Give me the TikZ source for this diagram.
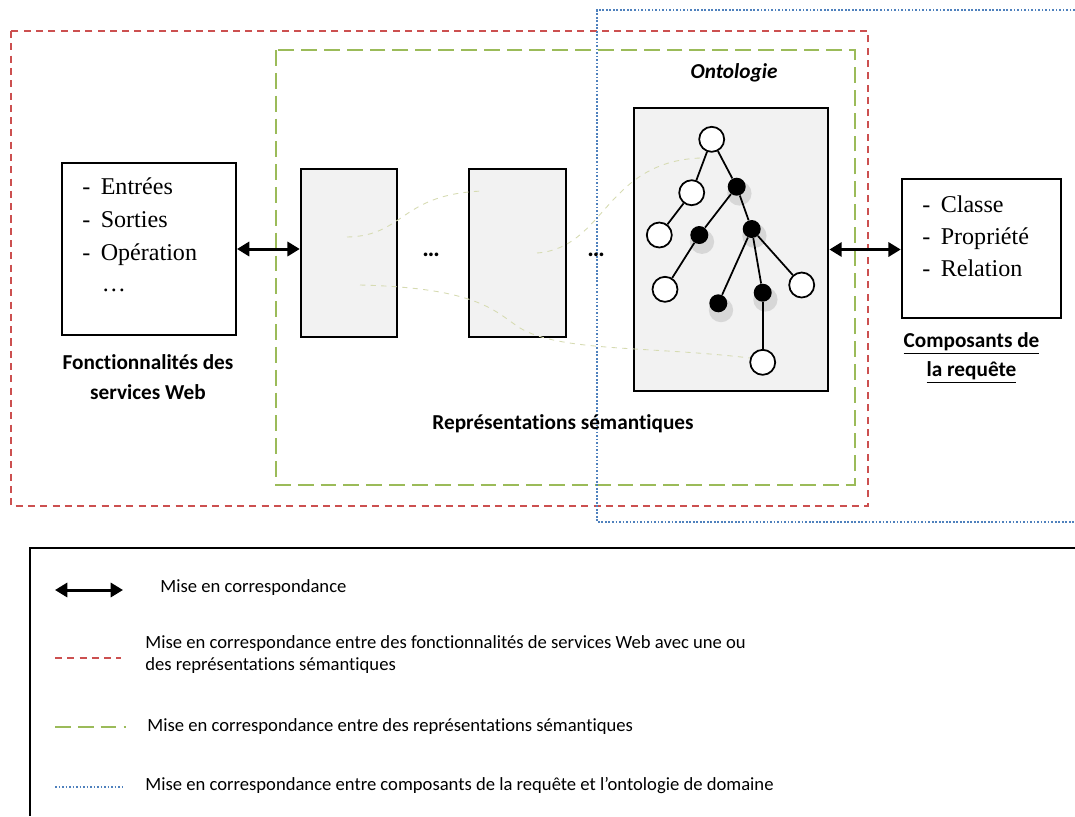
\documentclass[tikz,border=0pt]{standalone}
\usepackage{fontspec}
\setmainfont{Carlito}[Ligatures=NoCommon]
\newfontfamily\timesfont{Liberation Serif}
\usetikzlibrary{arrows.meta,shadows}

\definecolor{zonered}{RGB}{204,80,80}
\definecolor{zonegreen}{RGB}{155,187,89}
\definecolor{zoneblue}{RGB}{79,129,189}
\definecolor{boxgray}{RGB}{242,242,242}
\definecolor{tracecol}{RGB}{214,219,178}

\tikzset{
  redzone/.style={zonered, line width=1.2pt, dash pattern=on 4pt off 3pt},
  greenzone/.style={zonegreen, line width=1.2pt, dash pattern=on 9pt off 4pt},
  bluezone/.style={zoneblue, line width=1.4pt, dash pattern=on 1pt off 1pt},
  listbox/.style={draw, line width=1.1pt, fill=white, inner sep=0pt},
  repbox/.style={draw, line width=1.1pt, fill=boxgray, inner sep=0pt},
  mapping/.style={line width=1.7pt, {Triangle[length=7pt,width=8pt]}-{Triangle[length=7pt,width=8pt]}},
  listtext/.style={anchor=base west, inner sep=0pt, font=\timesfont\fontsize{13.7}{15}\selectfont},
  boldlabel/.style={align=center, inner sep=0pt, font=\bfseries\fontsize{12.1}{17}\selectfont},
  classnode/.style={circle, draw, line width=1pt, fill=white, minimum size=0.5cm, inner sep=0pt},
  instnode/.style={circle, fill=black, minimum size=0.36cm, inner sep=0pt,
    drop shadow={shadow xshift=0.04cm, shadow yshift=-0.1cm, shadow scale=1.35, fill=gray!40, opacity=0.7}},
  treeedge/.style={line width=1pt},
  trace/.style={tracecol, line width=0.5pt, dashed},
  legendtext/.style={anchor=west, align=left, inner sep=0pt, font=\fontsize{10.6}{12.5}\selectfont},
  repdots/.style={anchor=base, inner sep=0pt, font=\bfseries\fontsize{14}{16}\selectfont},
}

\begin{document}
\begin{tikzpicture}[x=0.02cm,y=-0.02cm]
  \useasboundingbox (0,0) rectangle (1075,816);

  % zones de mise en correspondance
  \draw[redzone] (11,31) rectangle (868,506);
  \draw[greenzone] (276,50) rectangle (855,485);
  \draw[bluezone] (1075,10) -- (597,10) -- (597,522) -- (1075,522);

  % fonctionnalites des services Web
  \node[listbox, minimum width=3.48cm, minimum height=3.44cm] (fws) at (149,249) {};
  \foreach \txt [count=\i] in {Entrées, Sorties, Opération}
    \node[listtext] (fws\i) at (82,161+33*\i) {\makebox[10.5pt][l]{-}\txt};
  \node[listtext] (fws4) at (101.5,291) {\ldots};
  \node[boldlabel] (fwslabel) at (148,377) {Fonctionnalités des\\services Web};

  % representations semantiques
  \node[repbox, minimum width=1.93cm, minimum height=3.37cm] (rep1) at (349,253) {};
  \node[repbox, minimum width=1.93cm, minimum height=3.37cm] (rep2) at (517.3,253) {};
  \node[repdots] (dots1) at (431,256) {…};
  \node[repdots] (dots2) at (596,256) {…};
  \node[boldlabel] (replabel) at (563,424) {Représentations sémantiques};

  % ontologie
  \node[repbox, minimum width=3.89cm, minimum height=5.65cm] (onto) at (731.2,249.5) {};
  \node[boldlabel, font=\bfseries\itshape\fontsize{12.1}{14}\selectfont] (ontolabel) at (734,73) {Ontologie};
  \node[classnode] (o0) at (711.7,139.3) {};
  \node[classnode] (o1) at (691.7,192.7) {};
  \node[instnode] (o2) at (736.7,186.7) {};
  \node[classnode] (o3) at (659.3,235) {};
  \node[instnode] (o4) at (699.3,235) {};
  \node[instnode] (o5) at (751.7,229) {};
  \node[classnode] (o6) at (665,289.3) {};
  \node[instnode] (o7) at (718.3,303.3) {};
  \node[instnode] (o8) at (762.7,292.7) {};
  \node[classnode] (o9) at (801.7,285) {};
  \node[classnode] (o10) at (762.7,362.3) {};
  \foreach \a/\b in {o0/o1, o0/o2, o1/o3, o2/o4, o2/o5, o4/o6, o5/o7, o5/o8, o5/o9, o8/o10}
    \draw[treeedge] (\a) -- (\b);

  % traces entre representations
  \coordinate (t1a) at (347,237);
  \coordinate (t1b) at (483,191);
  \coordinate (t2a) at (537,253);
  \coordinate (t2b) at (700,158);
  \coordinate (t3a) at (360,285);
  \coordinate (t3b) at (750,358);
  \draw[trace] (t1a) .. controls (405,236) and (400,194) .. (t1b);
  \draw[trace] (t2a) .. controls (605,248) and (605,162) .. (t2b);
  \draw[trace] (t3a) .. controls (480,288) and (495,312) .. (520,328)
               .. controls (560,352) and (650,346) .. (t3b);

  % composants de la requete
  \node[listbox, minimum width=3.18cm, minimum height=2.78cm] (req) at (981.2,248.8) {};
  \foreach \txt [count=\i] in {Classe, Propriété, Relation}
    \node[listtext] (req\i) at (922,180+32*\i) {\makebox[10.5pt][l]{-}\txt};
  \node[boldlabel] (reqlabel) at (971.5,358) {\underline{Composants de}\\\underline{la requête}};

  % mises en correspondance
  \draw[mapping] (fws.east) -- (fws.east -| rep1.west);
  \draw[mapping] (onto.east) -- (onto.east -| req.west);

  % legende
  \draw[line width=1.1pt] (1075,548) -- (30,548) -- (30,816);
  \coordinate (l1a) at (55,590);  \coordinate (l1b) at (123,590);
  \coordinate (l2a) at (55,658);  \coordinate (l2b) at (121,658);
  \coordinate (l3a) at (55,727);  \coordinate (l3b) at (126,727);
  \coordinate (l4a) at (55,787);  \coordinate (l4b) at (123,787);
  \draw[mapping] (l1a) -- (l1b);
  \draw[redzone] (l2a) -- (l2b);
  \draw[greenzone] (l3a) -- (l3b);
  \draw[bluezone] (l4a) -- (l4b);
  \node[legendtext] (leg1) at (160,588) {Mise en correspondance};
  \node[legendtext] (leg2) at (145,655) {Mise en correspondance entre des fonctionnalités de services Web avec une ou\\des représentations sémantiques};
  \node[legendtext] (leg3) at (147,727) {Mise en correspondance entre des représentations sémantiques};
  \node[legendtext] (leg4) at (145,786) {Mise en correspondance entre composants de la requête et l’ontologie de domaine};
\end{tikzpicture}
\end{document}
